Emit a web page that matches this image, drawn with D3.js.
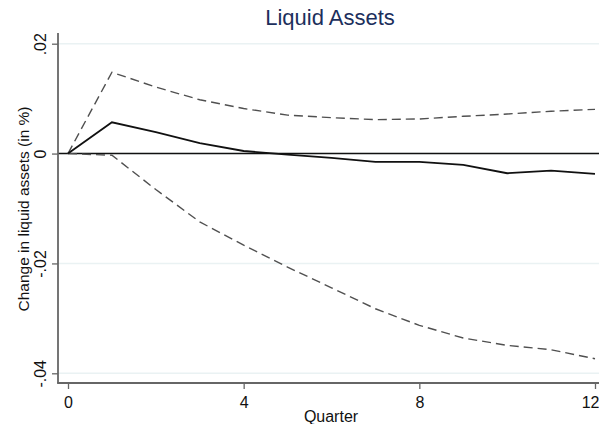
<!DOCTYPE html>
<html><head><meta charset="utf-8">
<script src="https://cdn.jsdelivr.net/npm/d3@7"></script>
<style>body{margin:0;background:#fff}svg{display:block}text{font-family:"Liberation Sans",Arial,sans-serif}</style>
</head><body>
<svg id="c" width="599" height="424"></svg>
<script>
const quarters = [0,1,2,3,4,5,6,7,8,9,10,11,12];
const estimate = [0,0.0057,0.0039,0.0019,0.00047,-0.00018,-0.0008,-0.00153,-0.00153,-0.00207,-0.00358,-0.0031,-0.0037];
const upper = [0,0.0148,0.0121,0.0098,0.0082,0.0070,0.00654,0.00618,0.0063,0.00678,0.0072,0.0077,0.00805];
const lower = [0,-0.0003,-0.00655,-0.01244,-0.01667,-0.02067,-0.02444,-0.02825,-0.03127,-0.03358,-0.03491,-0.03571,-0.03735];
const yTicks = [0.02,0,-0.02,-0.04];
const yTickLabels = [".02","0","-.02","-.04"];
const xTicks = [0,4,8,12];

const svg = d3.select("#c");
const x = d3.scaleLinear().domain([0,12]).range([68,595]);
const y = d3.scaleLinear().domain([-0.04,0.02]).range([373.3,43.7]);

// gridlines
svg.append("g").selectAll("line").data(yTicks).join("line")
  .attr("x1",58).attr("x2",599).attr("y1",d=>y(d)).attr("y2",d=>y(d))
  .attr("stroke","#eaf2f3").attr("stroke-width",1.5);

// zero line
svg.append("line").attr("x1",58).attr("x2",599).attr("y1",y(0)).attr("y2",y(0))
  .attr("stroke","#111").attr("stroke-width",1.5);

// axes
const yAxis = d3.axisLeft(y).tickValues(yTicks).tickSize(6).tickPadding(5)
  .tickFormat((d,i)=>yTickLabels[i]);
const gy = svg.append("g").attr("transform","translate(58,0)").call(yAxis);
gy.select(".domain").remove();
gy.selectAll(".tick line").attr("stroke","#666").attr("stroke-width",1.3);
gy.selectAll(".tick text").attr("font-size",16).attr("fill","#111")
  .attr("text-anchor","middle").attr("x",0).attr("y",0).attr("dy","0")
  .attr("transform","translate(-12,0) rotate(-90)");
svg.append("line").attr("x1",58).attr("x2",58).attr("y1",33).attr("y2",383.5)
  .attr("stroke","#666").attr("stroke-width",1.8);

const xAxis = d3.axisBottom(x).tickValues(xTicks).tickSize(6).tickPadding(8);
const gx = svg.append("g").attr("transform","translate(0,383)").call(xAxis);
gx.select(".domain").remove();
gx.selectAll(".tick line").attr("stroke","#666").attr("stroke-width",1.3);
gx.selectAll(".tick text").attr("font-size",16).attr("fill","#111")
  .filter(d=>d===12).attr("text-anchor","end").attr("x",4);
svg.append("line").attr("x1",57.2).attr("x2",599).attr("y1",383).attr("y2",383)
  .attr("stroke","#666").attr("stroke-width",1.8);

// series
const line = d3.line().x((d,i)=>x(quarters[i])).y(d=>y(d));
svg.append("path").datum(upper).attr("d",line).attr("fill","none")
  .attr("stroke","#505050").attr("stroke-width",1.4).attr("stroke-dasharray","9,5");
svg.append("path").datum(lower).attr("d",line).attr("fill","none")
  .attr("stroke","#505050").attr("stroke-width",1.4).attr("stroke-dasharray","9,5");
svg.append("path").datum(estimate).attr("d",line).attr("fill","none")
  .attr("stroke","#111").attr("stroke-width",1.8);

// title & labels
svg.append("text").attr("x",330).attr("y",25).attr("text-anchor","middle")
  .attr("font-size",22).attr("fill","#1c2f5c").text("Liquid Assets");
svg.append("text").attr("x",331).attr("y",422).attr("text-anchor","middle")
  .attr("font-size",16).attr("fill","#111").text("Quarter");
svg.append("text").attr("transform","translate(29,209) rotate(-90)").attr("text-anchor","middle")
  .attr("font-size",15.5).attr("fill","#111").text("Change in liquid assets (in %)");
</script>
</body></html>
